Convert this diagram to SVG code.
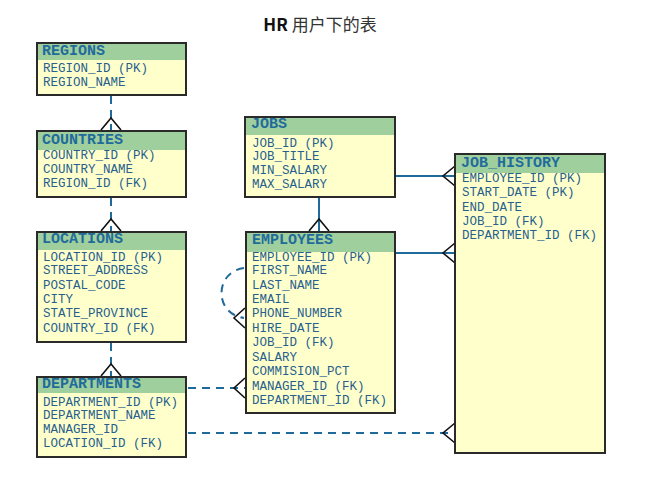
<svg xmlns="http://www.w3.org/2000/svg" width="663" height="490" viewBox="0 0 663 490">
<style>
.box{fill:#ffffcc;stroke:#2a2a2a;stroke-width:2}
.hd{fill:#9fcf9c}
.ht{font-family:"Liberation Mono",monospace;font-weight:bold;font-size:15px;fill:#1f6c9c}
.rt{font-family:"Liberation Mono",monospace;font-size:12.5px;fill:#275f8e}
.solid{stroke:#1f6a9a;stroke-width:2;fill:none}
.dash{stroke:#1f6a9a;stroke-width:2;fill:none;stroke-dasharray:8 6}
.crow{stroke:#111;stroke-width:1.6;fill:none}
</style>
<rect width="663" height="490" fill="#ffffff"/>
<text x="320" y="31" text-anchor="middle" font-family="'Noto Sans CJK SC','Noto Sans',sans-serif" font-size="17" fill="#333"><tspan font-weight="bold" fill="#111">HR</tspan> 用户下的表</text>

<g id="connectors">
  <path class="dash" d="M111,96 V130"/>
  <path class="crow" d="M101,130 L111,118 L121,130"/>
  <path class="dash" d="M111,198 V231"/>
  <path class="crow" d="M101,231 L111,219 L121,231"/>
  <path class="dash" d="M111,343 V376"/>
  <path class="crow" d="M101,376 L111,364 L121,376"/>
  <path class="solid" d="M319,198 V231"/>
  <path class="crow" d="M309,231 L319,219 L329,231"/>
  <path class="solid" d="M396,176 H455"/>
  <path class="crow" d="M455,166 L443,176 L455,186"/>
  <path class="solid" d="M396,253 H455"/>
  <path class="crow" d="M455,243 L443,253 L455,263"/>
  <path class="dash" d="M244,268 C214,272 214,314 244,318"/>
  <path class="crow" d="M245,308 L234,318 L245,328"/>
  <path class="dash" d="M188,388 H245"/>
  <path class="crow" d="M245,378 L234,388 L245,398"/>
  <path class="dash" d="M188,433 H455"/>
  <path class="crow" d="M455,423 L443,433 L455,443"/>
</g>

<g id="regions">
  <rect class="box" x="37" y="43" width="149" height="52"/>
  <rect class="hd" x="38" y="44" width="147" height="16"/>
  <text class="ht" x="42" y="55">REGIONS</text>
  <text class="rt" x="43" y="72">REGION_ID (PK)</text>
  <text class="rt" x="43" y="86">REGION_NAME</text>
</g>

<g id="countries">
  <rect class="box" x="37" y="131" width="149" height="66"/>
  <rect class="hd" x="38" y="132" width="147" height="18"/>
  <text class="ht" x="42" y="144">COUNTRIES</text>
  <text class="rt" x="43" y="159">COUNTRY_ID (PK)</text>
  <text class="rt" x="43" y="173">COUNTRY_NAME</text>
  <text class="rt" x="43" y="187">REGION_ID (FK)</text>
</g>

<g id="locations">
  <rect class="box" x="37" y="232" width="149" height="110"/>
  <rect class="hd" x="38" y="233" width="147" height="17"/>
  <text class="ht" x="42" y="243">LOCATIONS</text>
  <text class="rt" x="43" y="261">LOCATION_ID (PK)</text>
  <text class="rt" x="43" y="274">STREET_ADDRESS</text>
  <text class="rt" x="43" y="289">POSTAL_CODE</text>
  <text class="rt" x="43" y="303">CITY</text>
  <text class="rt" x="43" y="317">STATE_PROVINCE</text>
  <text class="rt" x="43" y="332">COUNTRY_ID (FK)</text>
</g>

<g id="departments">
  <rect class="box" x="37" y="377" width="149" height="80"/>
  <rect class="hd" x="38" y="378" width="147" height="15"/>
  <text class="ht" x="42" y="388">DEPARTMENTS</text>
  <text class="rt" x="43" y="406">DEPARTMENT_ID (PK)</text>
  <text class="rt" x="43" y="419">DEPARTMENT_NAME</text>
  <text class="rt" x="43" y="433">MANAGER_ID</text>
  <text class="rt" x="43" y="447">LOCATION_ID (FK)</text>
</g>

<g id="jobs">
  <rect class="box" x="245" y="117" width="150" height="80"/>
  <rect class="hd" x="246" y="118" width="148" height="17"/>
  <text class="ht" x="251" y="128">JOBS</text>
  <text class="rt" x="252" y="147">JOB_ID (PK)</text>
  <text class="rt" x="252" y="160">JOB_TITLE</text>
  <text class="rt" x="252" y="174">MIN_SALARY</text>
  <text class="rt" x="252" y="188">MAX_SALARY</text>
</g>

<g id="employees">
  <rect class="box" x="246" y="232" width="149" height="181"/>
  <rect class="hd" x="247" y="233" width="147" height="19"/>
  <text class="ht" x="252" y="244">EMPLOYEES</text>
  <text class="rt" x="252" y="261">EMPLOYEE_ID (PK)</text>
  <text class="rt" x="252" y="274">FIRST_NAME</text>
  <text class="rt" x="252" y="289">LAST_NAME</text>
  <text class="rt" x="252" y="303">EMAIL</text>
  <text class="rt" x="252" y="317">PHONE_NUMBER</text>
  <text class="rt" x="252" y="332">HIRE_DATE</text>
  <text class="rt" x="252" y="346">JOB_ID (FK)</text>
  <text class="rt" x="252" y="361">SALARY</text>
  <text class="rt" x="252" y="375">COMMISION_PCT</text>
  <text class="rt" x="252" y="390">MANAGER_ID (FK)</text>
  <text class="rt" x="252" y="404">DEPARTMENT_ID (FK)</text>
</g>

<g id="job_history">
  <rect class="box" x="455" y="154" width="150" height="299"/>
  <rect class="hd" x="456" y="155" width="148" height="18"/>
  <text class="ht" x="461" y="167">JOB_HISTORY</text>
  <text class="rt" x="462" y="182">EMPLOYEE_ID (PK)</text>
  <text class="rt" x="462" y="196">START_DATE (PK)</text>
  <text class="rt" x="462" y="211">END_DATE</text>
  <text class="rt" x="462" y="225">JOB_ID (FK)</text>
  <text class="rt" x="462" y="239">DEPARTMENT_ID (FK)</text>
</g>
</svg>
